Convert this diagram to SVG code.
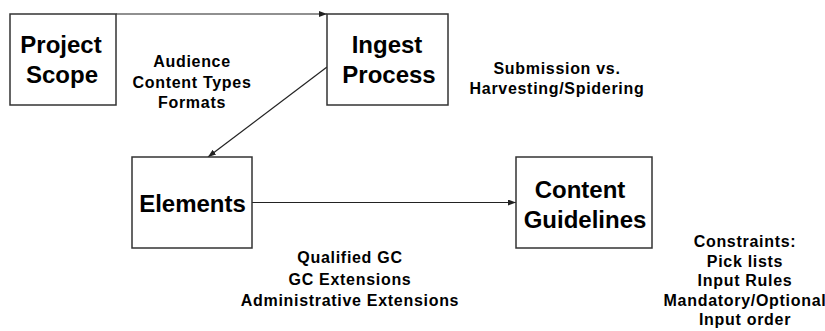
<svg xmlns="http://www.w3.org/2000/svg" width="825" height="331" viewBox="0 0 825 331">
<defs>
<marker id="arr" viewBox="0 0 8 6" refX="8" refY="3" markerWidth="8" markerHeight="6" markerUnits="userSpaceOnUse" orient="auto">
<path d="M0,0 L8,3 L0,6 z" fill="#222"/>
</marker>
<style>
.box{fill:#fff;stroke:#333;stroke-width:1.5}
.t{font-family:"Liberation Sans",Arial,sans-serif;font-weight:bold;font-size:24px;fill:#000;text-anchor:middle}
.n{font-family:"Liberation Sans",Arial,sans-serif;font-weight:bold;font-size:16px;letter-spacing:0.7px;fill:#000;text-anchor:middle}
.c{stroke:#222;stroke-width:1.2;fill:none}
</style>
</defs>
<rect width="825" height="331" fill="#fff"/>
<g id="connectors">
<line class="c" x1="116" y1="14" x2="327" y2="14" marker-end="url(#arr)"/>
<line class="c" x1="327" y1="67" x2="208" y2="157" marker-end="url(#arr)"/>
<line class="c" x1="252" y1="202.5" x2="516" y2="202.5" marker-end="url(#arr)"/>
</g>
<g id="project-scope">
<rect class="box" x="10" y="14" width="106" height="91"/>
<text class="t" x="61" y="53">Project</text>
<text class="t" x="62" y="83">Scope</text>
</g>
<g id="ingest-process">
<rect class="box" x="327" y="14" width="121" height="91"/>
<text class="t" x="387" y="53">Ingest</text>
<text class="t" x="389" y="83">Process</text>
</g>
<g id="elements">
<rect class="box" x="132" y="157" width="120" height="91"/>
<text class="t" x="192.5" y="212">Elements</text>
</g>
<g id="content-guidelines">
<rect class="box" x="516" y="157" width="136" height="91"/>
<text class="t" x="580" y="198">Content</text>
<text class="t" x="585" y="228">Guidelines</text>
</g>
<g id="labels">
<text class="n" x="192" y="67">Audience</text>
<text class="n" x="192" y="87.5">Content Types</text>
<text class="n" x="192" y="108">Formats</text>
<text class="n" x="557" y="74">Submission vs.</text>
<text class="n" x="557" y="94">Harvesting/Spidering</text>
<text class="n" x="350" y="263">Qualified GC</text>
<text class="n" x="350" y="284.5">GC Extensions</text>
<text class="n" x="350" y="306">Administrative Extensions</text>
<text class="n" x="745" y="247">Constraints:</text>
<text class="n" x="745" y="266.5">Pick lists</text>
<text class="n" x="745" y="286">Input Rules</text>
<text class="n" x="745" y="305.5">Mandatory/Optional</text>
<text class="n" x="745" y="325">Input order</text>
</g>
</svg>
